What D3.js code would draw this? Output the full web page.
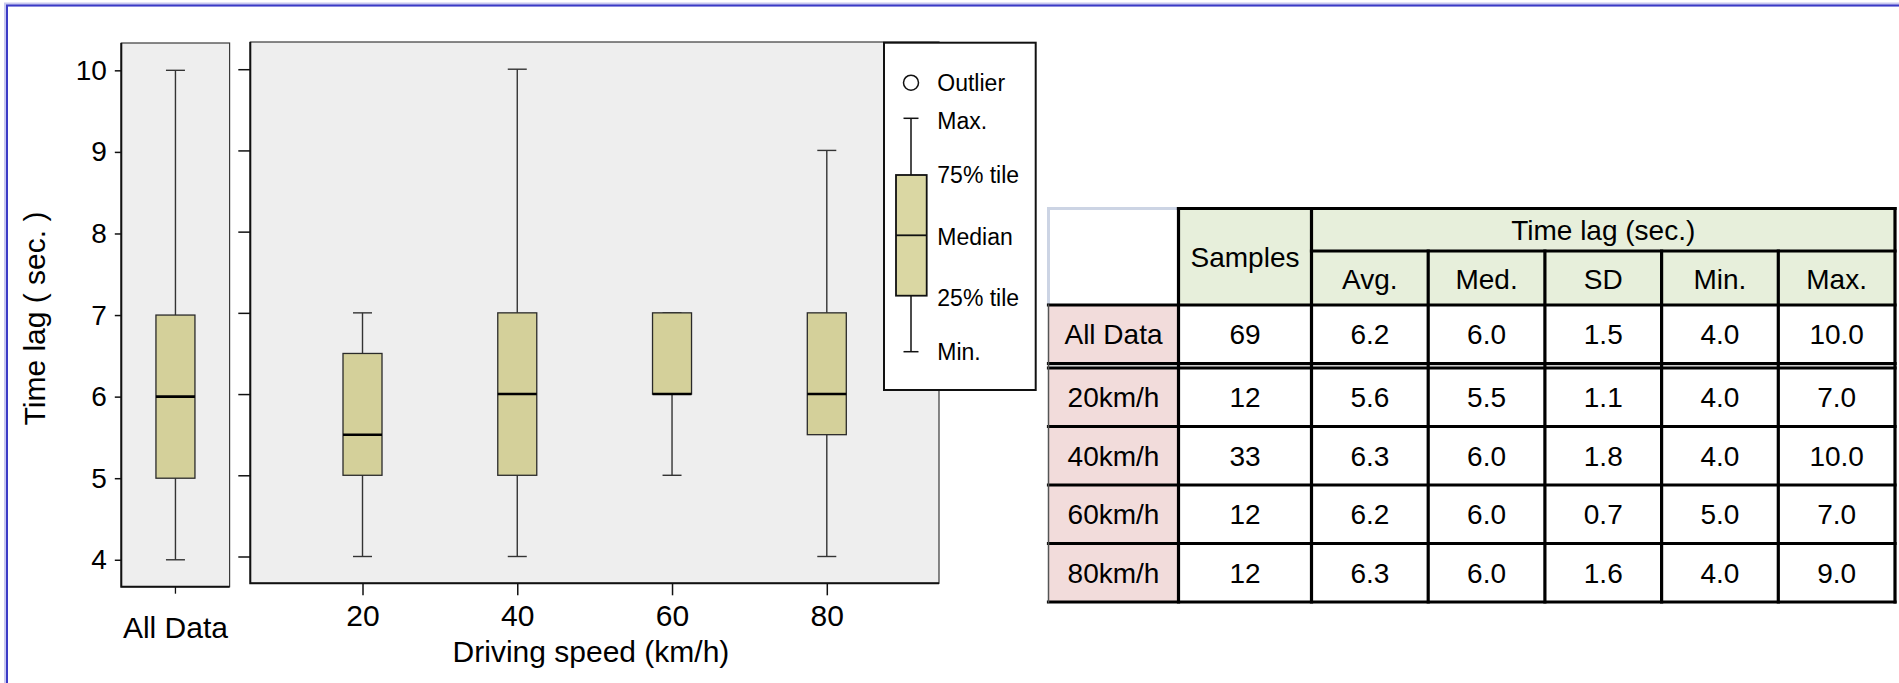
<!DOCTYPE html>
<html>
<head>
<meta charset="utf-8">
<script src="https://cdn.jsdelivr.net/npm/d3@7/dist/d3.min.js"></script>
<style>
  html, body { margin: 0; padding: 0; background: #ffffff; }
  svg { display: block; }
  text { font-family: "Liberation Sans", Arial, Helvetica, sans-serif; fill: #000; }
</style>
</head>
<body>
<svg id="chart" width="1899" height="683"></svg>
<script>
// ---- Box plot data: five-number summaries of time lag (sec.) ----
const allLabel = ["All Data"];
const speeds = [20, 40, 60, 80];
const boxMin    = [4, 4, 4, 5, 4];      // All Data, 20, 40, 60, 80 km/h
const boxQ1     = [5, 5, 5, 6, 5.5];
const boxMedian = [6, 5.5, 6, 6, 6];
const boxQ3     = [7, 6.5, 7, 7, 7];
const boxMax    = [10, 7, 10, 7, 9];
const yTicks = [4, 5, 6, 7, 8, 9, 10];

// ---- Summary table ----
const rowLabels = ["All Data", "20km/h", "40km/h", "60km/h", "80km/h"];
const samples = [69, 12, 33, 12, 12];
const avgVals = [6.2, 5.6, 6.3, 6.2, 6.3];
const medVals = [6.0, 5.5, 6.0, 6.0, 6.0];
const sdVals  = [1.5, 1.1, 1.8, 0.7, 1.6];
const minVals = [4.0, 4.0, 4.0, 5.0, 4.0];
const maxVals = [10.0, 7.0, 10.0, 7.0, 9.0];
const statHeaders = ["Avg.", "Med.", "SD", "Min.", "Max."];
const legendLabels = ["Outlier", "Max.", "75% tile", "Median", "25% tile", "Min."];

const svg = d3.select("#chart");
const FONT = '"Liberation Sans", Arial, Helvetica, sans-serif';

// ---- frame ----
svg.append("path").attr("d", "M6,683 V4.5 H1899").attr("fill", "none")
  .attr("stroke", "#c9c9ef").attr("stroke-width", 4);
svg.append("path").attr("d", "M7,683 V5.5 H1899").attr("fill", "none")
  .attr("stroke", "#3b3bc6").attr("stroke-width", 2);

const boxFill = "#d4d09a";
const yDomain = [3.67, 10.335];

// ---- panels ----
const leftP = { x0: 121.3, x1: 229.6, y0: 43, y1: 586.7 };
const rightP = { x0: 250.3, x1: 939, y0: 42, y1: 583.3 };

function panel(p) {
  svg.append("rect").attr("x", p.x0).attr("y", p.y0)
    .attr("width", p.x1 - p.x0).attr("height", p.y1 - p.y0)
    .attr("fill", "#eeeeee").attr("stroke", "#3a3a3a").attr("stroke-width", 1.2);
  svg.append("path").attr("d", `M${p.x0},${p.y0} V${p.y1} H${p.x1}`)
    .attr("fill", "none").attr("stroke", "#111").attr("stroke-width", 2);
}
panel(leftP);
panel(rightP);

const yL = d3.scaleLinear().domain(yDomain).range([leftP.y1, leftP.y0]);
const yR = d3.scaleLinear().domain(yDomain).range([rightP.y1, rightP.y0]);
const xAll = d3.scaleBand().domain(allLabel).range([leftP.x0, leftP.x1]);
const xSpeed = d3.scaleLinear().domain([5.5, 94.5]).range([rightP.x0, rightP.x1]);

// ---- y axes ----
const gyL = svg.append("g").attr("transform", `translate(${leftP.x0},0)`)
  .call(d3.axisLeft(yL).tickValues(yTicks).tickSize(6.5).tickPadding(8).tickFormat(d3.format("d")));
gyL.select(".domain").remove();
gyL.selectAll("line").attr("stroke", "#111").attr("stroke-width", 1.5);
gyL.selectAll("text").attr("font-size", 28).attr("font-family", FONT).attr("fill", "#000");

const gyR = svg.append("g").attr("transform", `translate(${rightP.x0},0)`)
  .call(d3.axisLeft(yR).tickValues(yTicks).tickSize(12).tickFormat(""));
gyR.select(".domain").remove();
gyR.selectAll("line").attr("stroke", "#111").attr("stroke-width", 1.5);

// ---- x axes ----
const gxL = svg.append("g").attr("transform", `translate(0,${leftP.y1})`)
  .call(d3.axisBottom(xAll).tickSize(7));
gxL.select(".domain").remove();
gxL.selectAll("line").attr("stroke", "#111").attr("stroke-width", 1.3);
gxL.selectAll("text").attr("font-size", 30).attr("font-family", FONT).attr("fill", "#000")
  .attr("dy", 0).attr("y", 51.6);

const gxR = svg.append("g").attr("transform", `translate(0,${rightP.y1})`)
  .call(d3.axisBottom(xSpeed).tickValues(speeds).tickSize(12).tickFormat(d3.format("d")));
gxR.select(".domain").remove();
gxR.selectAll("line").attr("stroke", "#111").attr("stroke-width", 1.5);
gxR.selectAll("text").attr("font-size", 30).attr("font-family", FONT).attr("fill", "#000")
  .attr("dy", 0).attr("y", 42.7);

// axis titles
svg.append("text").attr("x", 591).attr("y", 662).attr("text-anchor", "middle")
  .attr("font-size", 30).text("Driving speed (km/h)");
svg.append("text").attr("transform", "translate(45,318.5) rotate(-90)")
  .attr("text-anchor", "middle").attr("font-size", 30).text("Time lag ( sec. )");

// ---- boxes ----
const boxW = 39, capW = 19;
const boxes = [
  { cx: xAll("All Data") + xAll.bandwidth() / 2, y: yL, i: 0 },
  ...speeds.map((s, k) => ({ cx: xSpeed(s), y: yR, i: k + 1 }))
];

boxes.forEach(b => {
  const g = svg.append("g");
  const y = b.y, i = b.i;
  const wStroke = "#333";
  // whiskers
  g.append("line").attr("x1", b.cx).attr("x2", b.cx)
    .attr("y1", y(boxMin[i])).attr("y2", y(boxQ1[i]))
    .attr("stroke", wStroke).attr("stroke-width", 1.4);
  g.append("line").attr("x1", b.cx).attr("x2", b.cx)
    .attr("y1", y(boxQ3[i])).attr("y2", y(boxMax[i]))
    .attr("stroke", wStroke).attr("stroke-width", 1.4);
  [boxMin[i], boxMax[i]].forEach(v => {
    g.append("line").attr("x1", b.cx - capW / 2).attr("x2", b.cx + capW / 2)
      .attr("y1", y(v)).attr("y2", y(v))
      .attr("stroke", wStroke).attr("stroke-width", 1.4);
  });
  // box
  g.append("rect").attr("x", b.cx - boxW / 2).attr("y", y(boxQ3[i]))
    .attr("width", boxW).attr("height", y(boxQ1[i]) - y(boxQ3[i]))
    .attr("fill", boxFill).attr("stroke", "#2a2a2a").attr("stroke-width", 1.3);
  // median
  g.append("line").attr("x1", b.cx - boxW / 2).attr("x2", b.cx + boxW / 2)
    .attr("y1", y(boxMedian[i])).attr("y2", y(boxMedian[i]))
    .attr("stroke", "#000").attr("stroke-width", 2.6);
});

// ---- legend ----
const lg = svg.append("g").attr("transform", "translate(884,42.7)");
lg.append("rect").attr("x", 0).attr("y", 0).attr("width", 151.7).attr("height", 347.3)
  .attr("fill", "#fff").attr("stroke", "#111").attr("stroke-width", 2);
const lx = 27;
lg.append("circle").attr("cx", lx).attr("cy", 40).attr("r", 7.5)
  .attr("fill", "#fff").attr("stroke", "#111").attr("stroke-width", 1.5);
lg.append("line").attr("x1", lx).attr("x2", lx).attr("y1", 75.6).attr("y2", 309)
  .attr("stroke", "#111").attr("stroke-width", 1.5);
[75.6, 309].forEach(yy => lg.append("line").attr("x1", lx - 7.5).attr("x2", lx + 7.5)
  .attr("y1", yy).attr("y2", yy).attr("stroke", "#111").attr("stroke-width", 1.5));
lg.append("rect").attr("x", 12).attr("y", 132.3).attr("width", 30.7).attr("height", 120.7)
  .attr("fill", "#dad7a3").attr("stroke", "#111").attr("stroke-width", 1.8);
lg.append("line").attr("x1", 12).attr("x2", 42.7).attr("y1", 192.6).attr("y2", 192.6)
  .attr("stroke", "#111").attr("stroke-width", 1.8);
const legendY = [40, 78, 132.3, 194, 255, 309.3];
lg.selectAll("text.lab").data(legendLabels).join("text").attr("class", "lab")
  .attr("x", 53.3).attr("y", (d, k) => legendY[k]).attr("dy", "0.35em")
  .attr("font-size", 23).text(d => d);

// ---- table ----
const tLeft = 1048.5, tTop = 208.5;
const firstW = 130, sampW = 133, statW = 116.7;
const h1 = 42.5, h2 = 54, rowH = 58.5, gap = 4.5;
const colX = [tLeft, tLeft + firstW, tLeft + firstW + sampW];
for (let k = 1; k <= statHeaders.length; k++) colX.push(colX[2] + k * statW);
const tRight = colX[colX.length - 1];
const headBottom = tTop + h1 + h2;
const rowTop = rowLabels.map((d, k) => headBottom + k * rowH + (k > 0 ? gap : 0));
const tBottom = rowTop[rowTop.length - 1] + rowH;

const tg = svg.append("g");
const green = "#e7efdb", pink = "#f2dcdb";
// header fills
tg.append("rect").attr("x", colX[1]).attr("y", tTop).attr("width", tRight - colX[1])
  .attr("height", h1 + h2).attr("fill", green);
// row fills
rowLabels.forEach((r, k) => {
  tg.append("rect").attr("x", colX[0]).attr("y", rowTop[k]).attr("width", firstW)
    .attr("height", rowH).attr("fill", pink);
  tg.append("rect").attr("x", colX[1]).attr("y", rowTop[k]).attr("width", tRight - colX[1])
    .attr("height", rowH).attr("fill", "#fff");
});

// light border of empty corner cell
tg.append("path").attr("d", `M${colX[0]},${headBottom} V${tTop} H${colX[1]}`)
  .attr("fill", "none").attr("stroke", "#ccd4e4").attr("stroke-width", 3);

const thick = 3.2, lineCol = "#000";
function hline(x1, x2, y, w = thick, c = lineCol) {
  tg.append("line").attr("x1", x1).attr("x2", x2).attr("y1", y).attr("y2", y)
    .attr("stroke", c).attr("stroke-width", w).attr("stroke-linecap", "square");
}
function vline(x, y1, y2, w = thick, c = lineCol) {
  tg.append("line").attr("x1", x).attr("x2", x).attr("y1", y1).attr("y2", y2)
    .attr("stroke", c).attr("stroke-width", w).attr("stroke-linecap", "square");
}
// horizontal rules
hline(colX[1], tRight, tTop);
hline(colX[2], tRight, tTop + h1);
hline(colX[0], tRight, headBottom);
hline(colX[0], tRight, rowTop[0] + rowH);
hline(colX[0], tRight, rowTop[0] + rowH + gap / 2, 1, "#bbbbbb");
for (let k = 1; k < rowLabels.length; k++) hline(colX[0], tRight, rowTop[k]);
hline(colX[0], tRight, tBottom);
// vertical rules
vline(colX[0], headBottom, tBottom, 1.5, "#555");
vline(colX[1], tTop, tBottom);
vline(colX[2], tTop, tBottom);
for (let k = 3; k < colX.length - 1; k++) vline(colX[k], tTop + h1, tBottom);
vline(tRight, tTop, tBottom);

// header text
tg.append("text").attr("x", (colX[1] + colX[2]) / 2).attr("y", tTop + (h1 + h2) / 2)
  .attr("dy", "0.35em").attr("text-anchor", "middle").attr("font-size", 28).text("Samples");
tg.append("text").attr("x", (colX[2] + tRight) / 2).attr("y", tTop + h1 / 2)
  .attr("dy", "0.35em").attr("text-anchor", "middle").attr("font-size", 28).text("Time lag (sec.)");
statHeaders.forEach((h, k) => {
  tg.append("text").attr("x", (colX[k + 2] + colX[k + 3]) / 2).attr("y", tTop + h1 + h2 / 2 + 1)
    .attr("dy", "0.35em").attr("text-anchor", "middle").attr("font-size", 28).text(h);
});
// body text
const cols = [samples.map(String), avgVals, medVals, sdVals, minVals, maxVals];
rowLabels.forEach((r, k) => {
  const cy = rowTop[k] + rowH / 2;
  tg.append("text").attr("x", (colX[0] + colX[1]) / 2).attr("y", cy).attr("dy", "0.35em")
    .attr("text-anchor", "middle").attr("font-size", 28).text(r);
  cols.forEach((c, j) => {
    const v = c[k];
    tg.append("text").attr("x", (colX[j + 1] + colX[j + 2]) / 2).attr("y", cy).attr("dy", "0.35em")
      .attr("text-anchor", "middle").attr("font-size", 28)
      .text(typeof v === "number" ? d3.format(".1f")(v) : v);
  });
});
</script>
</body>
</html>
